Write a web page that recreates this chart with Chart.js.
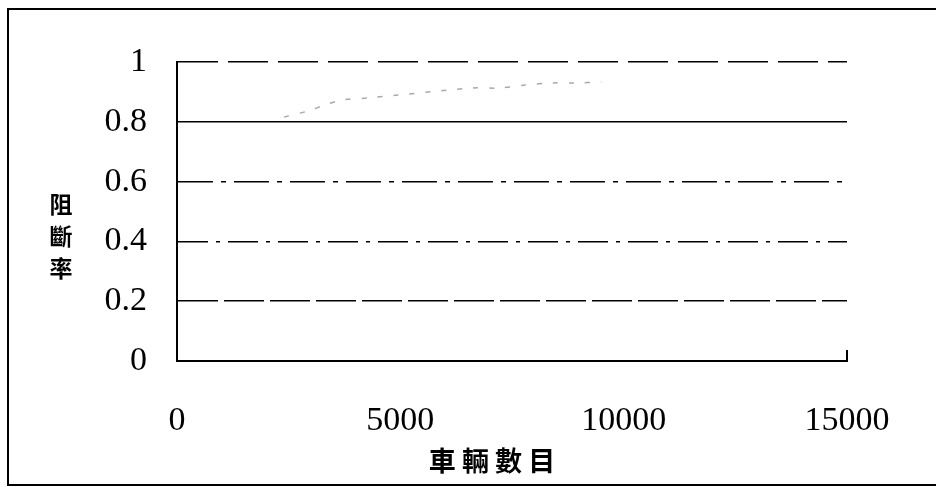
<!DOCTYPE html>
<html>
<head>
<meta charset="utf-8">
<script src="https://cdn.jsdelivr.net/npm/chart.js@4.4.0/dist/chart.umd.min.js"></script>
<style>
  html, body { margin: 0; padding: 0; background: #fff; }
</style>
</head>
<body>
<canvas id="myChart" width="936" height="487"></canvas>
<script>
// Data
const vehicleCounts = [2400, 3000, 3300, 3700, 4300, 6600, 7200, 7800, 8400, 8900, 9500];
const blockRates = [0.816, 0.839, 0.856, 0.873, 0.880, 0.913, 0.913, 0.923, 0.930, 0.930, 0.933];

const xTicks = [0, 5000, 10000, 15000];
const yTicks = [0, 0.2, 0.4, 0.6, 0.8, 1];

const xTitle = '車輛數目';
const yTitle = ['阻', '斷', '率'];

// dash pattern of each horizontal grid line, same order as yTicks
const gridDashes = [[], [40, 6], [30, 8, 4, 8], [35, 8, 5, 8], [], [40, 10]];

const points = vehicleCounts.map((v, i) => ({ x: v, y: blockRates[i] }));

// Frame, axis titles and the little end tick
const decorations = {
    id: 'decorations',
    afterDraw(chart) {
        const c = chart.ctx;
        const area = chart.chartArea;
        c.save();
        c.strokeStyle = '#000';
        c.lineWidth = 2;
        c.beginPath();
        c.moveTo(936, 9);
        c.lineTo(8, 9);
        c.lineTo(8, 485);
        c.lineTo(936, 485);
        c.stroke();

        // end tick on the x axis
        const xEnd = chart.scales.x.getPixelForValue(15000);
        c.beginPath();
        c.moveTo(xEnd, area.bottom);
        c.lineTo(xEnd, area.bottom - 11);
        c.stroke();

        c.fillStyle = '#000';
        c.textAlign = 'center';
        c.textBaseline = 'middle';
        c.font = 'bold 23px "Noto Sans CJK TC"';
        yTitle.forEach((ch, i) => {
            c.fillText(ch, 61, 204 + i * 32);
        });
        c.font = 'bold 27px "Noto Sans CJK TC"';
        c.fillText(xTitle.split('').join(' '), 492, 461);
        c.restore();
    }
};

const ctx = document.getElementById('myChart');

const myChart = new Chart(ctx, {
    type: 'line',
    data: {
        datasets: [{
            label: 'blocking',
            data: points,
            borderColor: '#a8a8a8',
            borderWidth: 1.5,
            borderDash: [5, 11],
            pointRadius: 0,
            fill: false,
            tension: 0.3
        }]
    },
    options: {
        responsive: false,
        animation: false,
        layout: { padding: { left: 0, right: 89, top: 62, bottom: 0 } },
        plugins: { legend: { display: false }, tooltip: { enabled: false } },
        scales: {
            x: {
                type: 'linear',
                min: 0,
                max: 15000,
                afterBuildTicks: (axis) => { axis.ticks = xTicks.map(v => ({ value: v })); },
                afterFit: (axis) => { axis.height = 126; },
                grid: { display: false },
                border: { display: true, color: '#000', width: 2 },
                ticks: {
                    color: '#000',
                    padding: 32,
                    maxRotation: 0,
                    font: { family: '"Liberation Serif"', size: 34 },
                    callback: (v) => String(v)
                }
            },
            y: {
                min: 0,
                max: 1,
                afterBuildTicks: (axis) => { axis.ticks = yTicks.map(v => ({ value: v })); },
                afterFit: (axis) => { axis.width = 177; },
                grid: {
                    color: '#000',
                    lineWidth: 1.5,
                    drawTicks: false
                },
                border: {
                    display: true,
                    color: '#000',
                    width: 2,
                    dash: (context) => {
                        const i = yTicks.indexOf(context.tick ? context.tick.value : -1);
                        return i >= 0 ? gridDashes[i] : [];
                    }
                },
                ticks: {
                    color: '#000',
                    padding: 30,
                    font: { family: '"Liberation Serif"', size: 34 },
                    callback: (v) => String(v)
                }
            }
        }
    },
    plugins: [decorations]
});
</script>
</body>
</html>
